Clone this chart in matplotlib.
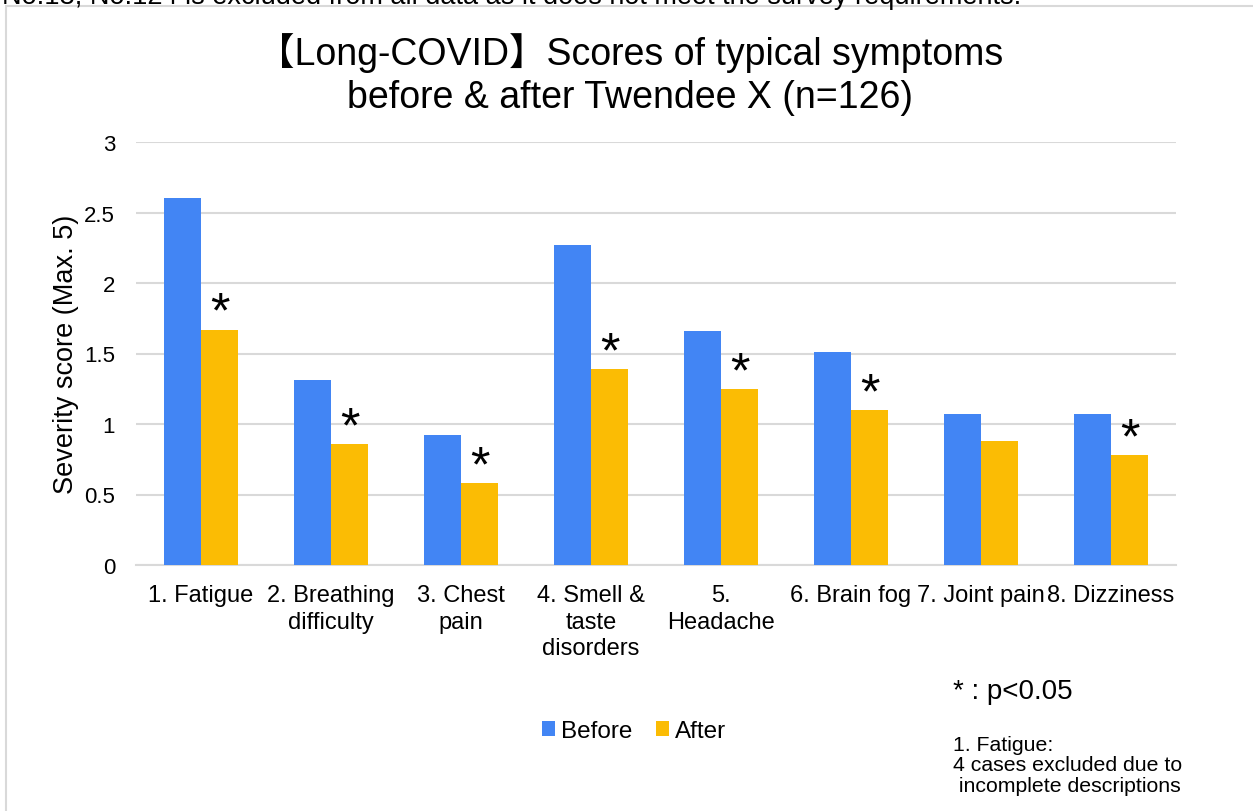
import matplotlib
matplotlib.use("Agg")
import matplotlib.pyplot as plt
import numpy as np
from matplotlib.patches import Rectangle

categories = ["1. Fatigue", "2. Breathing\ndifficulty", "3. Chest\npain", "4. Smell &\ntaste\ndisorders",
              "5.\nHeadache", "6. Brain fog", "7. Joint pain", "8. Dizziness"]
before = [2.60, 1.31, 0.92, 2.27, 1.66, 1.51, 1.07, 1.07]
after = [1.67, 0.86, 0.58, 1.39, 1.25, 1.10, 0.88, 0.78]
significant = [True, True, True, True, True, True, False, True]
yticks = [0, 0.5, 1, 1.5, 2, 2.5, 3]
ytick_labels = ["0", "0.5", "1", "1.5", "2", "2.5", "3"]

BLUE = "#4285F4"
ORANGE = "#FBBC04"
GRID = "#d9d9d9"
FONT = ["Liberation Sans", "DejaVu Sans"]
plt.rcParams["font.family"] = FONT

W, H = 1253, 812
fig = plt.figure(figsize=(W / 100, H / 100), dpi=100)

# outer border (extends past right/bottom edges)
fig.patches.append(Rectangle((6 / W, -0.1), 1.2, 1 - 7 / H + 0.1, transform=fig.transFigure,
                             fill=False, edgecolor=GRID, linewidth=1.5))

# note at top, cut off by the image edge as in the reference
fig.text(2 / W, 1 - 4 / H, "No.13, No.124 is excluded from all data as it does not meet the survey requirements.",
         fontsize=19.5, ha="left", va="baseline", color="black")

ax = fig.add_axes([136 / W, 1 - 566 / H, (1176 - 136) / W, (566 - 143) / H])
x = np.arange(len(categories))
bw = 0.285
ax.bar(x - bw / 2, before, width=bw, color=BLUE, label="Before", zorder=3)
ax.bar(x + bw / 2, after, width=bw, color=ORANGE, label="After", zorder=3)

for xi, v, s in zip(x, after, significant):
    if s:
        ax.annotate("*", xy=(xi + bw / 2, v), xytext=(0, 2), textcoords="offset points",
                    ha="center", va="baseline", fontsize=36, color="black")

ax.set_xlim(-0.5, len(categories) - 0.5)
ax.set_ylim(0, 3)
ax.set_yticks(yticks)
ax.set_yticklabels(ytick_labels, fontsize=16)
ax.set_xticks(x)
ax.set_xticklabels(categories, fontsize=17, linespacing=1.25)
ax.tick_params(axis="both", length=0)
ax.tick_params(axis="y", pad=15)
ax.tick_params(axis="x", pad=14)
ax.grid(axis="y", color=GRID, linewidth=1.5, zorder=0)
for sp in ["top", "right", "left"]:
    ax.spines[sp].set_visible(False)
ax.spines["bottom"].set_color(GRID)
ax.spines["bottom"].set_linewidth(1.5)
ax.set_ylabel("Severity score (Max. 5)", fontsize=19.5, labelpad=4)

fig.text(0.5025, 1 - 75 / H, "【Long-COVID】Scores of typical symptoms\nbefore & after Twendee X (n=126)",
         ha="center", va="center", fontsize=27, linespacing=1.25,
         family=["Liberation Sans", "Noto Sans CJK JP"])

leg = fig.legend(loc="center", bbox_to_anchor=(634 / W, 1 - 732 / H), ncol=2, frameon=False,
                 fontsize=17.5, handlelength=0.55, handleheight=0.55, handletextpad=0.25, columnspacing=0.95)

fig.text(953 / W, 1 - 692 / H, "* : p<0.05", fontsize=20, ha="left", va="center")
fig.text(953 / W, 1 - 766 / H, "1. Fatigue:\n4 cases excluded due to\n incomplete descriptions",
         fontsize=15.3, ha="left", va="center", linespacing=1.12)

fig.savefig("out.png", dpi=100)
